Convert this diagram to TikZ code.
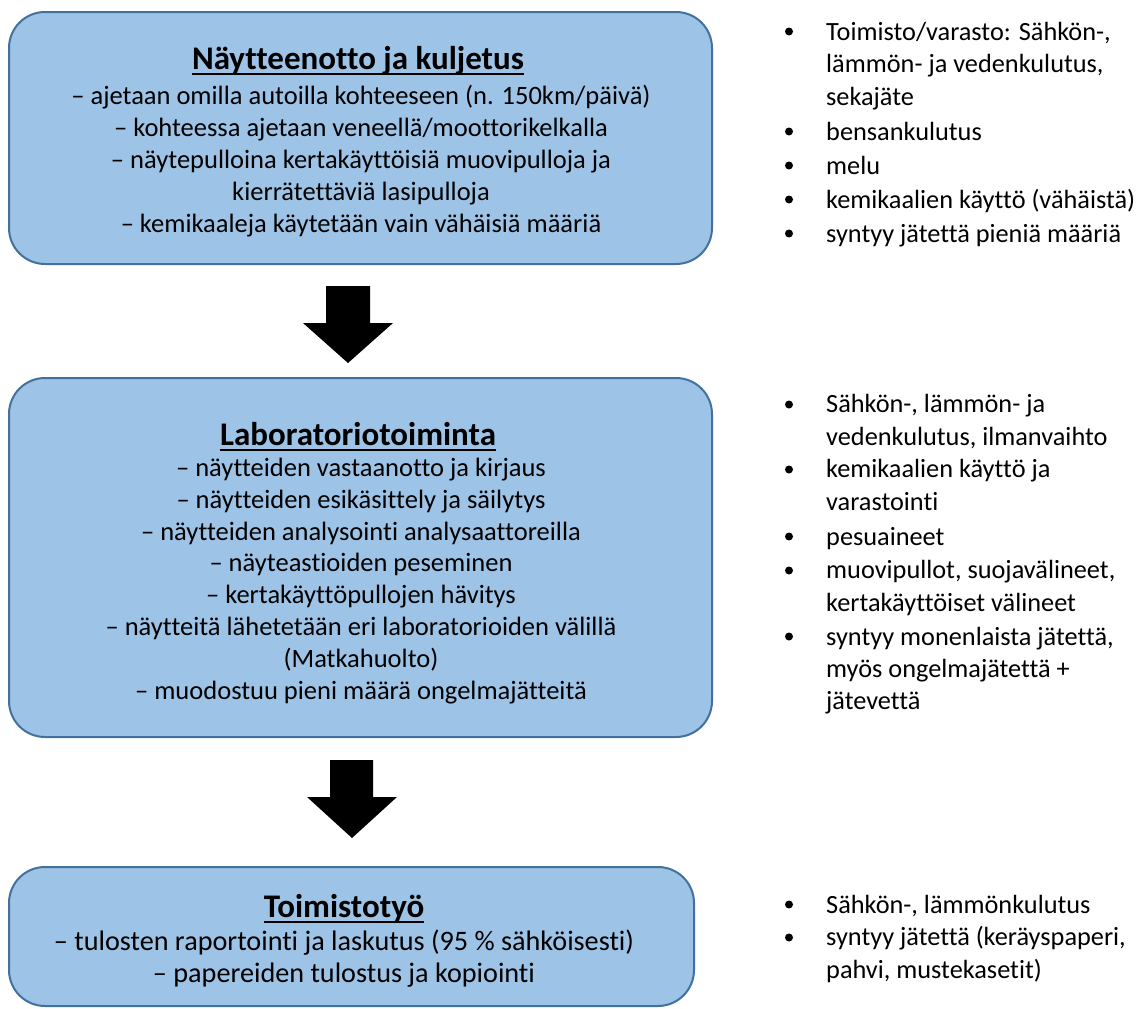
\documentclass[tikz,border=0pt]{standalone}
\usepackage{fontspec}
\setmainfont[Ligatures=NoCommon]{Carlito}
\definecolor{boxfill}{HTML}{9DC3E6}
\definecolor{boxline}{HTML}{41719C}
\tikzset{
  procbox/.style={draw=boxline, line width=2pt, fill=boxfill, rounded corners=36pt, inner sep=0pt},
  titletext/.style={font=\fontsize{33}{38}\selectfont\bfseries, inner sep=0pt, anchor=base},
  titleline/.style={line width=1.8pt},
  bodytext/.style={font=\fontsize{26.5}{31.8}\selectfont, align=center, inner sep=0pt, anchor=base},
  bodybig/.style={font=\fontsize{28.2}{32}\selectfont, align=center, inner sep=0pt, anchor=base},
  itemtext/.style={font=\fontsize{26.3}{32.3}\selectfont, align=left, inner sep=0pt, anchor=base west},
  bulletdot/.style={circle, fill=black, inner sep=0pt, minimum size=8pt},
  blockarrow/.style={fill=black}
}
\begin{document}
\begin{tikzpicture}[x=1pt,y=-1pt]
\useasboundingbox (0,0) rectangle (1136,1009);
% boxes
\node[procbox, minimum width=703pt, minimum height=252pt] (b1) at (360.5,138) {};
\node[procbox, minimum width=703pt, minimum height=359pt] (b2) at (360.5,557.5) {};
\node[procbox, minimum width=685pt, minimum height=139pt] (b3) at (351.5,936.5) {};
% arrows
\fill[blockarrow] (326,286) -- (370,286) -- (370,323) -- (393,323) -- (348,363) -- (303,323) -- (326,323) -- cycle;
\fill[blockarrow] (330,760) -- (373,760) -- (373,797) -- (397,797) -- (352,838) -- (307,797) -- (330,797) -- cycle;
% box 1 text (anchor = baseline of last line)
\node[titletext] (t1) at (358,69) {Näytteenotto ja kuljetus};
\draw[titleline] ([yshift=-5pt]t1.base west) -- ([yshift=-5pt]t1.base east);
\node[bodytext] (l1) at (361,232) {– ajetaan omilla autoilla kohteeseen (n. 150km/päivä)\\– kohteessa ajetaan veneellä/moottorikelkalla\\– näytepulloina kertakäyttöisiä muovipulloja ja\\kierrätettäviä lasipulloja\\– kemikaaleja käytetään vain vähäisiä määriä};
% box 2 text
\node[titletext] (t2) at (358,445) {Laboratoriotoiminta};
\draw[titleline] ([yshift=-5pt]t2.base west) -- ([yshift=-5pt]t2.base east);
\node[bodytext] (l2) at (361,699) {– näytteiden vastaanotto ja kirjaus\\– näytteiden esikäsittely ja säilytys\\– näytteiden analysointi analysaattoreilla\\– näyteastioiden peseminen\\– kertakäyttöpullojen hävitys\\– näytteitä lähetetään eri laboratorioiden välillä\\(Matkahuolto)\\– muodostuu pieni määrä ongelmajätteitä};
% box 3 text
\node[titletext] (t3) at (344,917) {Toimistotyö};
\draw[titleline] ([yshift=-5pt]t3.base west) -- ([yshift=-5pt]t3.base east);
\node[bodybig] (l3) at (344,982) {– tulosten raportointi ja laskutus (95 \% sähköisesti)\\– papereiden tulostus ja kopiointi};
% right column 1
\node[itemtext] (r11) at (826,105) {Toimisto/varasto: Sähkön-,\\lämmön- ja vedenkulutus,\\sekajäte};
\node[itemtext] (r12) at (826,140) {bensankulutus};
\node[itemtext] (r13) at (826,174) {melu};
\node[itemtext] (r14) at (826,208) {kemikaalien käyttö (vähäistä)};
\node[itemtext] (r15) at (826,242) {syntyy jätettä pieniä määriä};
\foreach \n/\y in {a/40,b/140,c/174,d/208,e/242}
  \node[bulletdot] (p1\n) at (789,\y-8.5) {};
% right column 2
\node[itemtext] (r21) at (826,445) {Sähkön-, lämmön- ja\\vedenkulutus, ilmanvaihto};
\node[itemtext] (r22) at (826,510) {kemikaalien käyttö ja\\varastointi};
\node[itemtext] (r23) at (826,545) {pesuaineet};
\node[itemtext] (r24) at (826,611) {muovipullot, suojavälineet,\\kertakäyttöiset välineet};
\node[itemtext] (r25) at (826,709.6) {syntyy monenlaista jätettä,\\myös ongelmajätettä +\\jätevettä};
\foreach \n/\y in {a/413,b/478,c/545,d/579,e/645}
  \node[bulletdot] (p2\n) at (789,\y-8.5) {};
% right column 3
\node[itemtext] (r31) at (826,913) {Sähkön-, lämmönkulutus};
\node[itemtext] (r32) at (826,978) {syntyy jätettä (keräyspaperi,\\pahvi, mustekasetit)};
\foreach \n/\y in {a/913,b/946}
  \node[bulletdot] (p3\n) at (789,\y-8.5) {};
\end{tikzpicture}
\end{document}
